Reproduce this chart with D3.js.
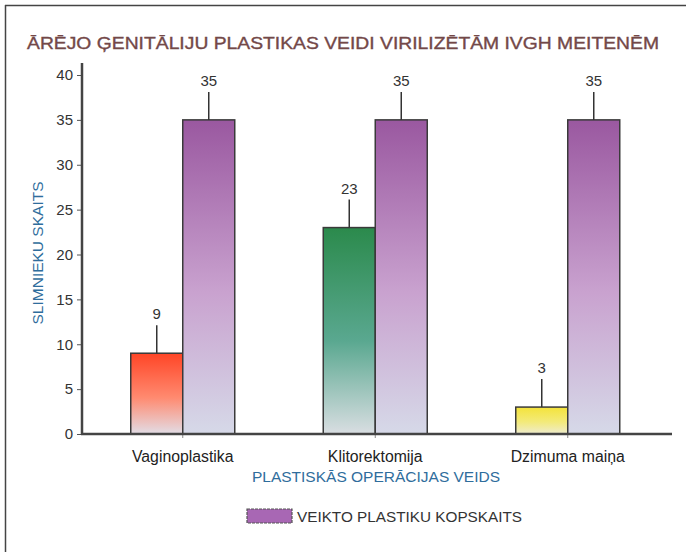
<!DOCTYPE html>
<html>
<head>
<meta charset="utf-8">
<script src="https://cdn.jsdelivr.net/npm/d3@7"></script>
<style>
  html, body { margin: 0; padding: 0; background: #fff; }
  svg { display: block; }
  text { font-family: "Liberation Sans", Arial, sans-serif; }
</style>
</head>
<body>
<svg id="chart" width="686" height="552"></svg>
<script>
// Operation types (categories) and counts
const categories = ["Vaginoplastika", "Klitorektomija", "Dzimuma maiņa"];
const performed = [9, 23, 3];          // operations of each type
const totalPerformed = [35, 35, 35];   // total operations performed
const yTicks = [0, 5, 10, 15, 20, 25, 30, 35, 40];

const titleText = "ĀRĒJO ĢENITĀLIJU PLASTIKAS VEIDI VIRILIZĒTĀM IVGH MEITENĒM";
const yTitle = "SLIMNIEKU SKAITS";
const xTitle = "PLASTISKĀS OPERĀCIJAS VEIDS";
const legendLabel = "VEIKTO PLASTIKU KOPSKAITS";

// per-category gradient colours for the first bar of each group
const typeColors = [
  ["#ff4526", "#ff8a70", "#e2dde6"],
  ["#2b8a4c", "#5aa890", "#d9dee2"],
  ["#f4e33a", "#f3ea7a", "#eeeccf"]
];
const totalColors = ["#9a58a0", "#c9a2cf", "#d6d9e8"];

const svg = d3.select("#chart");
const defs = svg.append("defs");

function addGradient(id, stops) {
  const g = defs.append("linearGradient")
    .attr("id", id).attr("x1", 0).attr("y1", 0).attr("x2", 0).attr("y2", 1);
  g.append("stop").attr("offset", "0%").attr("stop-color", stops[0]);
  g.append("stop").attr("offset", "55%").attr("stop-color", stops[1]);
  g.append("stop").attr("offset", "100%").attr("stop-color", stops[2]);
}
typeColors.forEach((c, i) => addGradient("typeGrad" + i, c));
addGradient("totalGrad", totalColors);

// page frame (top and left edges)
svg.append("line").attr("x1", 5).attr("x2", 686).attr("y1", 5.5).attr("y2", 5.5)
  .attr("stroke", "#444").attr("stroke-width", 1.5);
svg.append("line").attr("x1", 5.5).attr("x2", 5.5).attr("y1", 5).attr("y2", 552)
  .attr("stroke", "#444").attr("stroke-width", 1.5);

// title
svg.append("text")
  .attr("x", 343).attr("y", 49)
  .attr("text-anchor", "middle")
  .attr("font-size", 17)
  .attr("fill", "#734848")
  .attr("stroke", "#734848").attr("stroke-width", 0.35)
  .attr("textLength", 632)
  .attr("lengthAdjust", "spacingAndGlyphs")
  .text(titleText);

// scales
const y = d3.scaleLinear().domain([0, 40]).range([434, 75]);
const x = d3.scaleBand().domain(categories).range([86.5, 664]);
const barW = 52;

// y axis
const yAxis = svg.append("g").attr("transform", "translate(82,0)")
  .call(d3.axisLeft(y).tickValues(yTicks).tickSize(5).tickPadding(4));
yAxis.select(".domain").remove();
yAxis.selectAll(".tick line").attr("stroke", "#555").attr("stroke-width", 1);
yAxis.selectAll(".tick text")
  .attr("font-family", "Liberation Sans, Arial, sans-serif")
  .attr("font-size", 15).attr("fill", "#333");
svg.append("line").attr("x1", 82).attr("x2", 82).attr("y1", 63).attr("y2", 435)
  .attr("stroke", "#444").attr("stroke-width", 2.5);

// bars
const groups = svg.append("g").selectAll("g").data(categories).join("g");

groups.append("rect")
  .attr("x", d => x(d) + x.bandwidth() / 2 - barW)
  .attr("y", (d, i) => y(performed[i]))
  .attr("width", barW)
  .attr("height", (d, i) => y(0) - y(performed[i]))
  .attr("fill", (d, i) => `url(#typeGrad${i})`)
  .attr("stroke", "#3a3a3a").attr("stroke-width", 1.5);

groups.append("rect")
  .attr("x", d => x(d) + x.bandwidth() / 2)
  .attr("y", (d, i) => y(totalPerformed[i]))
  .attr("width", barW)
  .attr("height", (d, i) => y(0) - y(totalPerformed[i]))
  .attr("fill", "url(#totalGrad)")
  .attr("stroke", "#3a3a3a").attr("stroke-width", 1.5);

// value labels with leader lines
function valueLabel(sel, cx, v) {
  sel.append("line")
    .attr("x1", cx).attr("x2", cx)
    .attr("y1", y(v)).attr("y2", y(v) - 28)
    .attr("stroke", "#333").attr("stroke-width", 1.5);
  sel.append("text")
    .attr("x", cx).attr("y", y(v) - 34)
    .attr("text-anchor", "middle")
    .attr("font-size", 15).attr("fill", "#333")
    .text(v);
}
groups.each(function (d, i) {
  const g = d3.select(this);
  const c = x(d) + x.bandwidth() / 2;
  valueLabel(g, c - barW / 2, performed[i]);
  valueLabel(g, c + barW / 2, totalPerformed[i]);
});

// x axis
const xAxis = svg.append("g").attr("transform", "translate(0,434)")
  .call(d3.axisBottom(x).tickSize(4).tickPadding(13));
xAxis.select(".domain").remove();
xAxis.selectAll(".tick line").attr("stroke", "#888").attr("stroke-width", 1);
xAxis.selectAll(".tick text")
  .attr("font-family", "Liberation Sans, Arial, sans-serif")
  .attr("font-size", 15.8).attr("fill", "#222");
svg.append("line").attr("x1", 81).attr("x2", 672).attr("y1", 434).attr("y2", 434)
  .attr("stroke", "#444").attr("stroke-width", 2.5);

// axis titles
svg.append("text")
  .attr("x", 376).attr("y", 482)
  .attr("text-anchor", "middle")
  .attr("font-size", 15.5).attr("fill", "#2f6d9c")
  .text(xTitle);
svg.append("text")
  .attr("transform", "translate(43,253) rotate(-90)")
  .attr("text-anchor", "middle")
  .attr("font-size", 15.5).attr("fill", "#2f6d9c")
  .text(yTitle);

// legend
svg.append("rect")
  .attr("x", 247).attr("y", 509).attr("width", 45).attr("height", 14)
  .attr("fill", "#a867b4").attr("stroke", "#555").attr("stroke-width", 1.2)
  .attr("stroke-dasharray", "3,1");
svg.append("text")
  .attr("x", 297).attr("y", 522)
  .attr("font-size", 15.3).attr("fill", "#333")
  .text(legendLabel);
</script>
</body>
</html>
